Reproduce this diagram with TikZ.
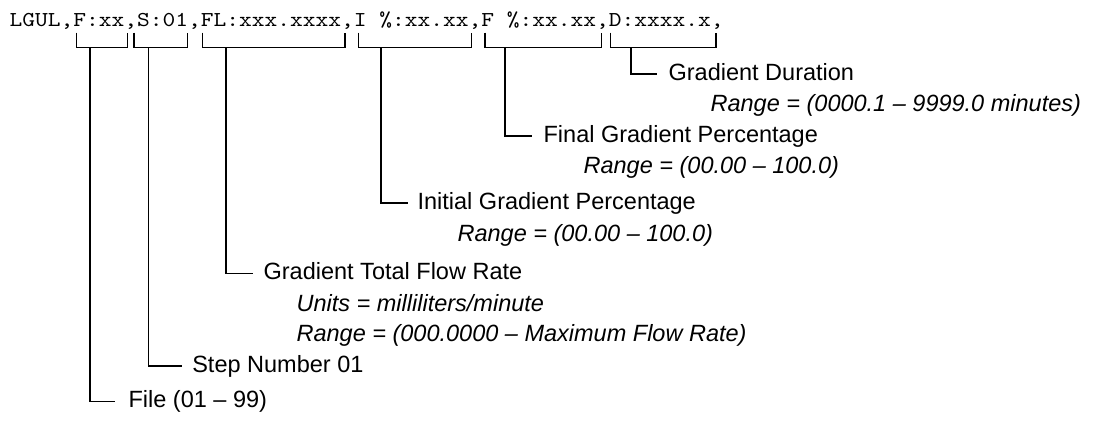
\documentclass[tikz,border=0pt]{standalone}
\usepackage{fontspec}
\usepackage{graphicx}
\setmainfont{Liberation Sans}
\begin{document}
\begin{tikzpicture}[x=0.5pt,y=-0.5pt,line width=0.6pt,
  lbl/.style={inner sep=0pt,anchor=base west,font=\fontsize{11.75}{14}\selectfont},
  sub/.style={inner sep=0pt,anchor=base west,font=\fontsize{11.75}{14}\selectfont\itshape},
  code/.style={inner sep=0pt,anchor=base west,font=\ttfamily\fontsize{10.6}{12}\selectfont},
  brk/.style={line width=0.6pt},
  conn/.style={line width=0.6pt}]
\useasboundingbox (0,0) rectangle (1095,420);
% code string
\node[code] (str) at (9,26) {\scalebox{1.1455}[1]{LGUL,F:xx,S:01,FL:xxx.xxxx,I \%:xx.xx,F \%:xx.xx,D:xxxx.x,}};
% bracket ends
\coordinate (b1l) at (76.7,32.7); \coordinate (b1r) at (127.3,32.7);
\coordinate (b2l) at (134,32.7);  \coordinate (b2r) at (187.3,32.7);
\coordinate (b3l) at (202.3,32.7); \coordinate (b3r) at (345,32.7);
\coordinate (b4l) at (358.3,32.7); \coordinate (b4r) at (471.7,32.7);
\coordinate (b5l) at (485,32.7);  \coordinate (b5r) at (601.7,32.7);
\coordinate (b6l) at (610.7,32.7); \coordinate (b6r) at (716,32.7);
\foreach \i in {1,...,6}{\draw[brk] (b\i l) -- ++(0,14.6) -| (b\i r);}
% stems
\coordinate (s1) at (90,47.3);
\coordinate (s2) at (148.3,47.3);
\coordinate (s3) at (226,47.3);
\coordinate (s4) at (381,47.3);
\coordinate (s5) at (505,47.3);
\coordinate (s6) at (631,47.3);
% labels
\node[lbl] (lD) at (668,80) {Gradient Duration};
\node[sub] (rD) at (710,111.5) {Range = (0000.1 -- 9999.0 minutes)};
\node[lbl] (lF) at (543,142) {Final Gradient Percentage};
\node[sub] (rF) at (583,173.5) {Range = (00.00 -- 100.0)};
\node[lbl] (lI) at (417,209) {Initial Gradient Percentage};
\node[sub] (rI) at (457,241) {Range = (00.00 -- 100.0)};
\node[lbl] (lFL) at (263,279.5) {Gradient Total Flow Rate};
\node[sub] (uFL) at (296,311.5) {Units = milliliters/minute};
\node[sub] (rFL) at (296,341) {Range = (000.0000 -- Maximum Flow Rate)};
\node[lbl] (lS) at (191.7,372) {Step Number 01};
\node[lbl] (lFi) at (128,407.5) {File (01 -- 99)};
% connectors
\draw[conn] (s6) |- ([shift={(-11,-6)}]lD.base west);
\draw[conn] (s5) |- ([shift={(-11,-6)}]lF.base west);
\draw[conn] (s4) |- ([shift={(-9,-6)}]lI.base west);
\draw[conn] (s3) |- ([shift={(-10,-6)}]lFL.base west);
\draw[conn] (s2) |- ([shift={(-10,-6)}]lS.base west);
\draw[conn] (s1) |- ([shift={(-13,-6)}]lFi.base west);
\end{tikzpicture}
\end{document}
